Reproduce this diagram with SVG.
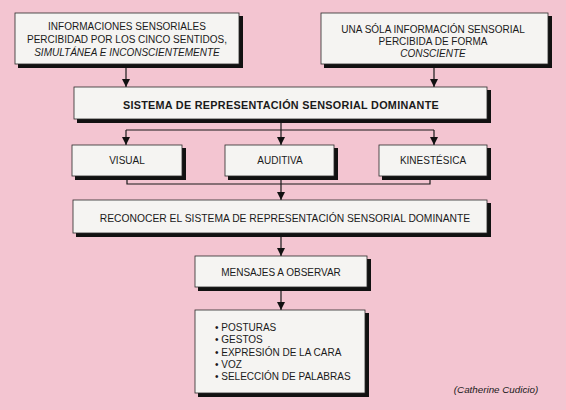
<svg xmlns="http://www.w3.org/2000/svg" width="566" height="410" viewBox="0 0 566 410">
<style>
text{font-family:"Liberation Sans",Arial,sans-serif;font-size:10px;fill:#1a1a1a;text-anchor:middle}
.it{font-style:italic}
.b{font-weight:bold;font-size:10.8px;letter-spacing:0.3px}
.box{fill:#f5f4f2;stroke:#2a2a2a;stroke-width:0.8}
.sh{fill:#111}
.ln{fill:none;stroke:#1a1a1a;stroke-width:1.2}
.l{text-anchor:start}
</style>
<defs>
<marker id="ah" viewBox="0 0 8 8" refX="8" refY="4" markerWidth="8" markerHeight="8" markerUnits="userSpaceOnUse" orient="auto">
<path d="M0,0 L8,4 L0,8 Z" fill="#111"/>
</marker>
</defs>
<rect width="566" height="410" fill="#f3c5d1"/>
<g id="connectors">
<path class="ln" d="M126,64 V87" marker-end="url(#ah)"/>
<path class="ln" d="M434,64 V87" marker-end="url(#ah)"/>
<path class="ln" d="M281,119 V130 M126,130 H434"/>
<path class="ln" d="M126,130 V145" marker-end="url(#ah)"/>
<path class="ln" d="M281,130 V145" marker-end="url(#ah)"/>
<path class="ln" d="M434,130 V145" marker-end="url(#ah)"/>
<path class="ln" d="M127,176 V184 H430 V176 M281,176 V184"/>
<path class="ln" d="M281,184 V200" marker-end="url(#ah)"/>
<path class="ln" d="M281,233 V256" marker-end="url(#ah)"/>
<path class="ln" d="M281,287 V310" marker-end="url(#ah)"/>
</g>
<g id="n1">
<rect class="sh" x="18" y="16" width="225" height="52"/>
<rect class="box" x="15" y="13" width="224" height="51"/>
<text x="127" y="30">INFORMACIONES SENSORIALES</text>
<text x="127" y="43">PERCIBIDAD POR LOS CINCO SENTIDOS,</text>
<text x="127" y="56" class="it">SIMULTÁNEA E INCONSCIENTEMENTE</text>
</g>
<g id="n2">
<rect class="sh" x="324" y="16" width="228" height="52"/>
<rect class="box" x="321" y="13" width="227" height="51"/>
<text x="433" y="33">UNA SÓLA INFORMACIÓN SENSORIAL</text>
<text x="433" y="45">PERCIBIDA DE FORMA</text>
<text x="433" y="57" class="it">CONSCIENTE</text>
</g>
<g id="n3">
<rect class="sh" x="77" y="90" width="414" height="33"/>
<rect class="box" x="74" y="87" width="413" height="32"/>
<text x="281" y="109" class="b">SISTEMA DE REPRESENTACIÓN SENSORIAL DOMINANTE</text>
</g>
<g id="n4">
<rect class="sh" x="75" y="148" width="111" height="32"/>
<rect class="box" x="72" y="145" width="110" height="31"/>
<text x="127" y="164">VISUAL</text>
</g>
<g id="n5">
<rect class="sh" x="228" y="148" width="110" height="32"/>
<rect class="box" x="225" y="145" width="109" height="31"/>
<text x="280" y="164">AUDITIVA</text>
</g>
<g id="n6">
<rect class="sh" x="382" y="148" width="109" height="32"/>
<rect class="box" x="379" y="145" width="108" height="31"/>
<text x="433" y="164">KINESTÉSICA</text>
</g>
<g id="n7">
<rect class="sh" x="76" y="203" width="415" height="34"/>
<rect class="box" x="73" y="200" width="414" height="33"/>
<text x="285" y="222" style="font-size:10.3px">RECONOCER EL SISTEMA DE REPRESENTACIÓN SENSORIAL DOMINANTE</text>
</g>
<g id="n8">
<rect class="sh" x="198" y="259" width="173" height="32"/>
<rect class="box" x="195" y="256" width="172" height="31"/>
<text x="281" y="276">MENSAJES A OBSERVAR</text>
</g>
<g id="n9">
<rect class="sh" x="198" y="313" width="171" height="84"/>
<rect class="box" x="195" y="310" width="170" height="83"/>
<text x="215" y="331" class="l">• POSTURAS</text>
<text x="215" y="343" class="l">• GESTOS</text>
<text x="215" y="355.5" class="l">• EXPRESIÓN DE LA CARA</text>
<text x="215" y="367.5" class="l">• VOZ</text>
<text x="215" y="380" class="l">• SELECCIÓN DE PALABRAS</text>
</g>
<text x="496" y="393" class="it" style="font-size:9.8px">(Catherine Cudicio)</text>
</svg>
